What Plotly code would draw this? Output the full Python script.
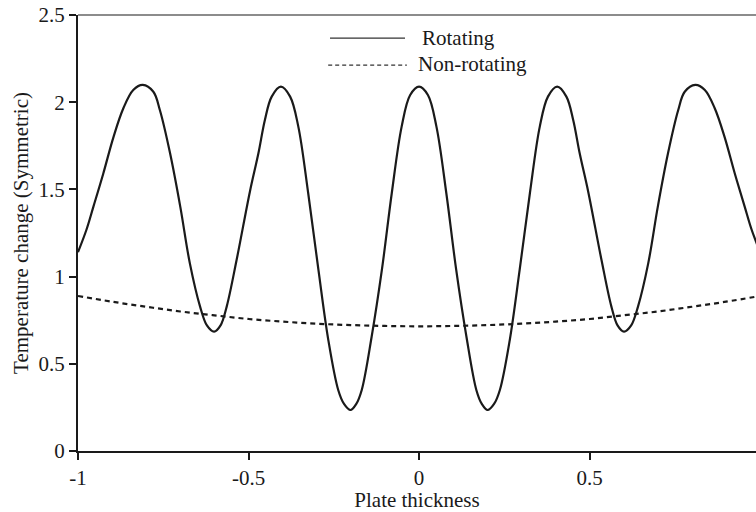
import plotly.graph_objects as go

# Rotating case
x_rot = [-1.0, -0.975, -0.955, -0.926, -0.896, -0.867, -0.838, -0.81, -0.779, -0.76,
         -0.73, -0.70, -0.672, -0.642, -0.622, -0.601, -0.582, -0.564, -0.535, -0.496,
         -0.471, -0.452, -0.432, -0.405, -0.378, -0.354, -0.325, -0.295, -0.266, -0.237,
         -0.22, -0.201, -0.184, -0.168, -0.139, -0.109, -0.080, -0.051, -0.026, 0.0,
         0.026, 0.051, 0.080, 0.109, 0.139, 0.168, 0.184, 0.201, 0.22, 0.237,
         0.266, 0.295, 0.325, 0.354, 0.378, 0.405, 0.432, 0.452, 0.471, 0.496,
         0.535, 0.564, 0.582, 0.601, 0.622, 0.642, 0.672, 0.70, 0.73, 0.76,
         0.779, 0.81, 0.838, 0.867, 0.896, 0.926, 0.955, 0.975, 1.0]
y_rot = [1.14, 1.27, 1.40, 1.59, 1.80, 1.965, 2.07, 2.099, 2.06, 1.955,
         1.707, 1.40, 1.076, 0.828, 0.72, 0.684, 0.72, 0.828, 1.095, 1.487,
         1.707, 1.898, 2.032, 2.089, 2.032, 1.86, 1.478, 1.038, 0.636, 0.35,
         0.27, 0.235, 0.27, 0.35, 0.655, 1.038, 1.478, 1.86, 2.041, 2.089,
         2.041, 1.86, 1.478, 1.038, 0.655, 0.35, 0.27, 0.235, 0.27, 0.35,
         0.636, 1.038, 1.478, 1.86, 2.032, 2.089, 2.032, 1.898, 1.707, 1.487,
         1.095, 0.828, 0.72, 0.684, 0.72, 0.828, 1.076, 1.40, 1.707, 1.955,
         2.06, 2.099, 2.07, 1.965, 1.80, 1.59, 1.40, 1.27, 1.14]

# Non-rotating case
x_non = [-1.0, -0.9, -0.8, -0.7, -0.6, -0.5, -0.4, -0.3, -0.2, -0.1, 0.0,
         0.1, 0.2, 0.3, 0.4, 0.5, 0.6, 0.7, 0.8, 0.9, 1.0]
y_non = [0.889, 0.856, 0.827, 0.800, 0.778, 0.757, 0.742, 0.730, 0.722, 0.717, 0.715,
         0.717, 0.722, 0.730, 0.742, 0.757, 0.778, 0.800, 0.827, 0.856, 0.889]

x_ticks = [-1, -0.5, 0, 0.5]
x_tick_text = ["-1", "-0.5", "0", "0.5"]
y_ticks = [0, 0.5, 1, 1.5, 2, 2.5]
y_tick_text = ["0", "0.5", "1", "1.5", "2", "2.5"]

FONT = "Liberation Serif, Times New Roman, serif"
INK = "#1a1a1a"

fig = go.Figure()
fig.add_trace(go.Scatter(x=x_rot, y=y_rot, mode="lines", name="Rotating",
                         line=dict(color=INK, width=2.2, shape="spline"), showlegend=False))
fig.add_trace(go.Scatter(x=x_non, y=y_non, mode="lines", name="Non-rotating",
                         line=dict(color=INK, width=2.2, dash="5px,4px", shape="spline"),
                         showlegend=False))

# legend drawn by hand to match the long line samples
fig.add_shape(type="line", xref="paper", yref="paper", x0=0.3717, x1=0.4823, y0=0.947, y1=0.947,
              line=dict(color="#333", width=1.2))
fig.add_shape(type="line", xref="paper", yref="paper", x0=0.369, x1=0.485, y0=0.885, y1=0.885,
              line=dict(color="#333", width=1.2, dash="4px,3px"))
fig.add_annotation(text="Rotating", xref="paper", yref="paper", x=0.5044, y=0.947,
                   xanchor="left", yanchor="middle", showarrow=False,
                   font=dict(family=FONT, size=21, color=INK))
fig.add_annotation(text="Non-rotating", xref="paper", yref="paper", x=0.4985, y=0.888,
                   xanchor="left", yanchor="middle", showarrow=False,
                   font=dict(family=FONT, size=21, color=INK))
# top frame line
fig.add_shape(type="line", xref="paper", yref="paper", x0=0, x1=1, y0=1, y1=1,
              line=dict(color="#666", width=1.5))

fig.update_layout(
    width=756, height=512,
    margin=dict(l=78, r=0, t=15, b=61),
    paper_bgcolor="white", plot_bgcolor="white",
    font=dict(family=FONT, size=21, color=INK),
    xaxis=dict(range=[-1, 0.988], tickvals=x_ticks, ticktext=x_tick_text,
               ticks="outside", ticklen=7, tickwidth=1.5, tickcolor=INK,
               showline=True, linecolor=INK, linewidth=2, showgrid=False, zeroline=False,
               title=dict(text="Plate thickness", standoff=3,
                          font=dict(family=FONT, size=21, color=INK))),
    yaxis=dict(range=[0, 2.5], tickvals=y_ticks, ticktext=y_tick_text,
               ticks="outside", ticklen=7, tickwidth=1.5, tickcolor=INK,
               showline=True, linecolor=INK, linewidth=2, showgrid=False, zeroline=False,
               title=dict(text="Temperature change (Symmetric)", standoff=4,
                          font=dict(family=FONT, size=21, color=INK))),
)

fig.write_html("out.html")
